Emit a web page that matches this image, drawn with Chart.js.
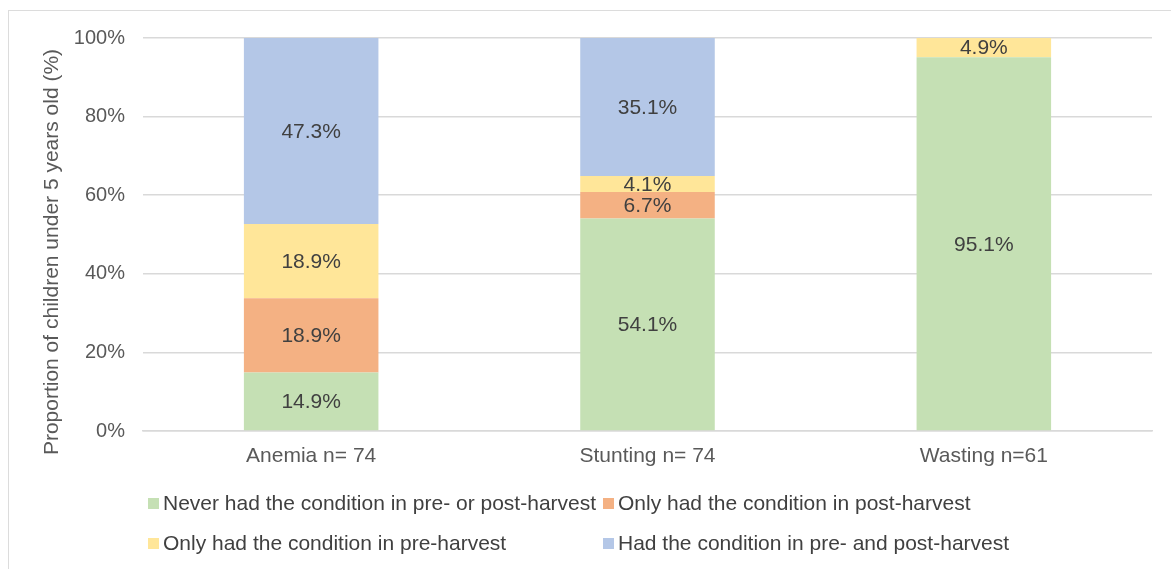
<!DOCTYPE html>
<html>
<head>
<meta charset="utf-8">
<script src="https://cdn.jsdelivr.net/npm/chart.js@4.4.1/dist/chart.umd.min.js"></script>
<style>
  html, body { margin: 0; padding: 0; background: #fff; }
  #wrap { position: relative; width: 1171px; height: 569px; }
  #frame { position: absolute; left: 8px; top: 10px; right: 0; bottom: 0;
           border-left: 1.5px solid #dcdcdc; border-top: 1.5px solid #dcdcdc; }
  canvas { position: absolute; left: 0; top: 0; }
</style>
</head>
<body>
<div id="wrap">
  <div id="frame"></div>
  <canvas id="chart" width="1171" height="569"></canvas>
</div>
<script>
// --- Data ---
const categories = ['Anemia n= 74', 'Stunting n= 74', 'Wasting n=61'];
const neverHad = [14.9, 54.1, 95.1];
const onlyPost = [18.9, 6.7, 0];
const onlyPre = [18.9, 4.1, 4.9];
const preAndPost = [47.3, 35.1, 0];
const yTicks = [0, 20, 40, 60, 80, 100];

const seriesLabels = [
    'Never had the condition in pre- or post-harvest',
    'Only had the condition in post-harvest',
    'Only had the condition in pre-harvest',
    'Had the condition in pre- and post-harvest'
];
const seriesColors = ['#C5E0B4', '#F4B183', '#FFE699', '#B4C7E7'];
const seriesData = [neverHad, onlyPost, onlyPre, preAndPost];

const FONT = '"Liberation Sans", Arial, sans-serif';

// value labels in the middle of each segment
const valueLabels = {
    id: 'valueLabels',
    afterDatasetsDraw(chart) {
        const ctx = chart.ctx;
        ctx.save();
        ctx.font = '21px ' + FONT;
        ctx.fillStyle = '#404040';
        ctx.textAlign = 'center';
        ctx.textBaseline = 'middle';
        chart.data.datasets.forEach((ds, i) => {
            chart.getDatasetMeta(i).data.forEach((bar, j) => {
                const v = ds.data[j];
                if (!v) return;
                const mid = (bar.y + bar.base) / 2;
                ctx.fillText(v.toFixed(1) + '%', bar.x, mid + 1);
            });
        });
        ctx.restore();
    }
};

// two-column legend under the plot
const gridLegend = {
    id: 'gridLegend',
    afterDraw(chart) {
        const ctx = chart.ctx;
        const colX = [148, 603];
        const rowY = [503, 543];
        ctx.save();
        ctx.font = '21px ' + FONT;
        ctx.textBaseline = 'middle';
        chart.data.datasets.forEach((ds, i) => {
            const x = colX[i % 2];
            const y = rowY[Math.floor(i / 2)];
            ctx.fillStyle = ds.backgroundColor;
            ctx.fillRect(x, y - 5, 11, 11);
            ctx.fillStyle = '#404040';
            ctx.fillText(ds.label, x + 15, y + 1);
        });
        ctx.restore();
    }
};

new Chart(document.getElementById('chart'), {
    type: 'bar',
    data: {
        labels: categories,
        datasets: seriesData.map((d, i) => ({
            label: seriesLabels[i],
            data: d,
            backgroundColor: seriesColors[i],
            borderWidth: 0,
            categoryPercentage: 1,
            barPercentage: 0.4
        }))
    },
    options: {
        responsive: false,
        animation: false,
        layout: { padding: { left: 40, right: 19, top: 38, bottom: 88 } },
        plugins: {
            legend: { display: false },
            tooltip: { enabled: false }
        },
        scales: {
            x: {
                stacked: true,
                afterFit: axis => { axis.height = 50; },
                grid: { display: false, drawTicks: false },
                border: { color: '#d9d9d9', width: 1.5 },
                ticks: { color: '#595959', font: { family: FONT, size: 21 }, padding: 13 }
            },
            y: {
                stacked: true,
                min: 0,
                max: 100,
                afterFit: axis => { axis.width = 103; },
                afterBuildTicks: axis => { axis.ticks = yTicks.map(v => ({ value: v })); },
                grid: { color: '#d9d9d9', lineWidth: 1.5, drawTicks: false },
                border: { display: false },
                ticks: {
                    color: '#595959',
                    font: { family: FONT, size: 20 },
                    padding: 18,
                    callback: v => v + '%'
                },
                title: {
                    display: true,
                    // trailing spaces nudge the rotated title down, as in the original
                    text: 'Proportion of children under 5 years old (%)      ',
                    color: '#595959',
                    font: { family: FONT, size: 21 },
                    padding: { top: 0, bottom: 0 }
                }
            }
        }
    },
    plugins: [valueLabels, gridLegend]
});
</script>
</body>
</html>
